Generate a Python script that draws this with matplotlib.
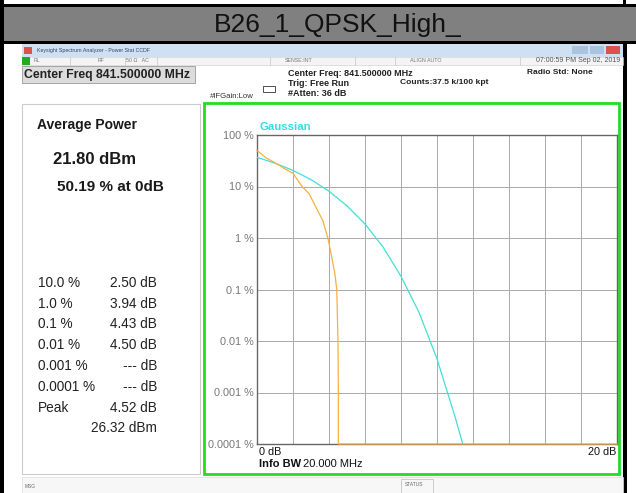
import matplotlib.pyplot as plt
from matplotlib.patches import Rectangle

plt.rcParams['font.family'] = ['Liberation Sans', 'DejaVu Sans']

W, H = 636, 493

# CCDF traces (x in dB above average, y in %)
meas_db = [0, 0.5, 1.0, 1.5, 2.0, 2.5, 2.9, 3.3, 3.65, 3.94, 4.15, 4.33, 4.43, 4.50, 4.52, 4.52, 20]
meas_pct = [50.19, 36, 29, 22.5, 18, 10, 7.2, 3.8, 2.2, 1.0, 0.43, 0.2, 0.1, 0.01, 0.001, 1e-4, 1e-4]
gauss_db = [0, 1, 2, 3, 4, 5, 6, 7, 8, 9, 10, 11, 11.43]
gauss_pct = [36.8, 28.4, 20.5, 13.6, 8.1, 4.2, 1.87, 0.67, 0.18, 0.036, 0.0045, 0.00034, 0.0001]

# statistics table on the left panel
prob_labels = ["10.0 %", "1.0 %", "0.1 %", "0.01 %", "0.001 %", "0.0001 %"]
prob_values = ["2.50 dB", "3.94 dB", "4.43 dB", "4.50 dB", "--- dB", "--- dB"]
ytick_pos = [100, 10, 1, 0.1, 0.01, 0.001, 0.0001]
ytick_lab = ["100 %", "10 %", "1 %", "0.1 %", "0.01 %", "0.001 %", "0.0001 %"]


def fx(x):
    return x / W


def fy(y):
    return 1 - y / H


def box(x0, y0, x1, y1, fc, ec='none', lw=0):
    fig.add_artist(Rectangle((fx(x0), fy(y1)), (x1 - x0) / W, (y1 - y0) / H,
                             transform=fig.transFigure, facecolor=fc,
                             edgecolor=ec, linewidth=lw, zorder=1))


def txt(x, y, s, **kw):
    kw.setdefault('va', 'center')
    fig.text(fx(x), fy(y), s, **kw)


fig = plt.figure(figsize=(W / 100, H / 100), dpi=100)
fig.patch.set_facecolor('white')

# document table around the screenshot
box(0, 0, 4, H, 'black')
box(0, 4, 636, 7, 'black')
box(4, 7, 636, 41, '#808080')
box(0, 41, 636, 44, 'black')
box(623, 0, 626, 4, 'black')
box(623, 44, 627, H, 'black')
txt(338, 25, "B26_1_QPSK_High_", ha='center', fontsize=19, color='#111111')

# analyzer window chrome
box(22, 44, 623, 57, '#cfe0f3')
box(24, 47, 32, 54, '#d9534f')
txt(37, 50.5, "Keysight Spectrum Analyzer - Power Stat CCDF", fontsize=3.8, color='#334466')
box(572, 46, 588, 54, '#aac4e0')
box(590, 46, 604, 54, '#aac4e0')
box(606, 46, 620, 54, '#d9534f')
box(22, 57, 623, 65, '#f4f4f4', ec='#cccccc', lw=0.4)
box(22, 57, 30, 65, '#22aa22')
for sx in [70, 125, 157, 270, 355, 395, 520]:
    fig.add_artist(plt.Line2D([fx(sx), fx(sx)], [fy(57), fy(65)],
                              transform=fig.transFigure, color='#bbbbbb', lw=0.4))
for sx, s in [(34, "RL"), (98, "RF"), (126, "50 Ω   AC"), (285, "SENSE:INT"),
              (410, "ALIGN AUTO")]:
    txt(sx, 61, s, fontsize=3.8, color='#777777')
txt(620, 61, "07:00:59 PM Sep 02, 2019", ha='right', fontsize=5, color='#555555')

box(22, 66, 195, 83, '#dcdcdc', ec='#999999', lw=0.6)
txt(24, 74.5, "Center Freq 841.500000 MHz", fontsize=8.8, fontweight='bold', color='#222222')
txt(288, 73, "Center Freq: 841.500000 MHz", fontsize=6.5, fontweight='bold', color='#222222')
txt(288, 83, "Trig: Free Run", fontsize=6.5, fontweight='bold', color='#222222')
txt(288, 93, "#Atten: 36 dB", fontsize=6.5, fontweight='bold', color='#222222')
txt(400, 83, "Counts:37.5 k/100 kpt", fontsize=6.1, fontweight='bold', color='#222222')
txt(527, 73, "Radio Std: None", fontsize=6, fontweight='bold', color='#222222')
txt(210, 96.5, "#IFGain:Low", fontsize=5.6, color='#333333')
box(263, 86, 275, 92, 'white', ec='#333333', lw=0.6)

# left summary panel
box(22, 104, 200, 474, 'white', ec='#cccccc', lw=0.8)
txt(37, 125, "Average Power", fontsize=10, fontweight='bold', color='#1a1a1a')
txt(53, 160, "21.80 dBm", fontsize=12, fontweight='bold', color='#1a1a1a')
txt(57, 187, "50.19 % at 0dB", fontsize=11, fontweight='bold', color='#1a1a1a')
row_y = [283, 303.5, 324, 345, 366, 387]
for ry, lab, val in zip(row_y, prob_labels, prob_values):
    txt(38, ry, lab, fontsize=9.8, color='#222222')
    txt(157, ry, val, ha='right', fontsize=9.8, color='#222222')
txt(38, 408, "Peak", fontsize=9.8, color='#222222')
txt(157, 408, "4.52 dB", ha='right', fontsize=9.8, color='#222222')
txt(157, 428, "26.32 dBm", ha='right', fontsize=9.8, color='#222222')

# graph panel with green frame
box(204, 103, 619, 474, 'white', ec='#22dd22', lw=2)

ax = fig.add_axes([fx(257), fy(444), 360 / W, 309 / H])
ax.set_zorder(2)
ax.set_facecolor('white')
ax.plot(gauss_db, gauss_pct, color='#40e0d8', lw=0.9, zorder=3)
ax.plot(meas_db, meas_pct, color='#f8b040', lw=0.9, zorder=4, clip_on=False)
ax.set_yscale('log')
ax.set_xlim(0, 20)
ax.set_ylim(1e-4, 100)
ax.set_xticks(range(0, 21, 2))
ax.set_xticklabels([])
ax.set_yticks(ytick_pos)
ax.set_yticklabels(ytick_lab)
ax.minorticks_off()
ax.tick_params(length=0, pad=2, labelsize=7.8, labelcolor='#777777')
ax.grid(True, color='#aaaaaa', lw=0.7)
for sp in ax.spines.values():
    sp.set_color('#666666')
    sp.set_linewidth(1)

txt(259, 127, "Gaussian", fontsize=8.2, fontweight='bold', color='#30e0e0')
txt(259, 452, "0 dB", fontsize=7.8, color='#111111')
txt(616, 452, "20 dB", ha='right', fontsize=7.8, color='#111111')
txt(259, 464, "Info BW", fontsize=8, fontweight='bold', color='#111111')
txt(303, 464, "20.000 MHz", fontsize=8, color='#111111')

# bottom status bar
box(22, 477, 623, 493, '#f7f7f7', ec='#dddddd', lw=0.5)
txt(25, 487, "MSG", fontsize=3.5, color='#666666')
box(401, 479, 433, 493, '#f7f7f7', ec='#bbbbbb', lw=0.5)
txt(405, 485, "STATUS", fontsize=3.5, color='#666666')

fig.savefig("out.png", dpi=100)
